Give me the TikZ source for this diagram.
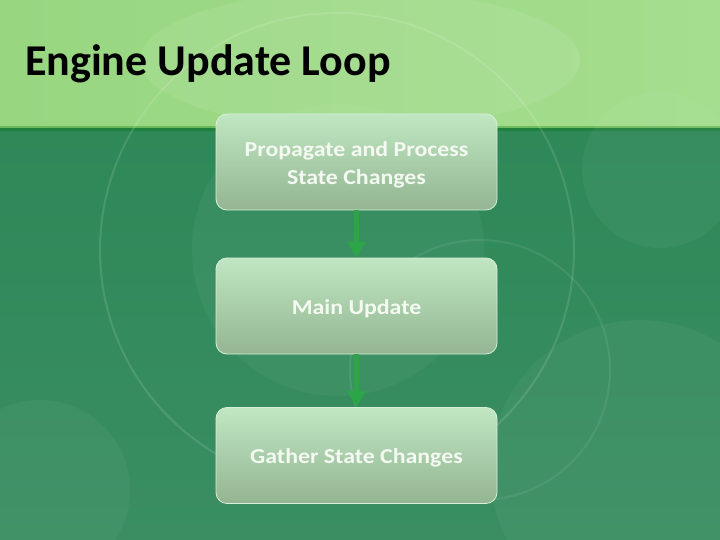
\documentclass[tikz,border=0pt]{standalone}
\usepackage{fontspec}
\setmainfont{Carlito}
\newfontfamily\boxfont[FakeStretch=1.12]{Carlito}
\usetikzlibrary{arrows.meta}
\definecolor{lightband}{HTML}{A4DE8E}
\definecolor{lightbandB}{HTML}{98D680}
\definecolor{darkbg}{HTML}{2E8858}
\definecolor{darkbgB}{HTML}{3A8E62}
\definecolor{boxtop}{HTML}{C0E6C2}
\definecolor{boxbot}{HTML}{93B592}
\definecolor{boxline}{HTML}{D8F0D8}
\definecolor{arrowgreen}{HTML}{2CA448}
\definecolor{textwhite}{HTML}{F4F9F2}
\tikzset{
  stepbox/.style={draw=boxline, line width=0.8pt, rounded corners=11pt,
    top color=boxtop, bottom color=boxbot, minimum width=281pt, minimum height=96pt,
    text=textwhite, font=\boxfont\bfseries\fontsize{21.3}{28}\selectfont, inner sep=0pt},
  flowarrow/.style={draw=arrowgreen, line width=5pt,
    -{Triangle[length=16pt,width=18pt]}},
  ring/.style={draw=white, opacity=0.12, line width=2pt},
  blob/.style={fill=white, opacity=0.045}
}
\newcommand{\boxtext}[1]{\raisebox{-2.5pt}[\height][\depth]{\begin{tabular}{@{}c@{}}#1\end{tabular}}}
\begin{document}
\begin{tikzpicture}[x=1pt,y=-1pt]
\useasboundingbox (0,0) rectangle (720,540);
% background
\shade[top color=darkbg, bottom color=darkbgB] (0,128) rectangle (720,540);
\shade[left color=lightbandB, right color=lightband] (0,0) rectangle (720,128);
\fill[white, opacity=0.08] (360,60) ellipse (220 and 70);
\fill[black!55!green, opacity=0.3] (0,126) rectangle (720,131);
% decorative circles
\fill[blob] (338,250) circle (146);
\fill[blob] (660,170) circle (78);
\fill[blob] (640,470) circle (150);
\fill[blob] (40,490) circle (90);
\draw[ring] (337,250) circle (237);
\draw[ring, opacity=0.08] (480,370) circle (130);
% boxes
\node[stepbox] (p) at (356.5,162) {\boxtext{Propagate and Process\\State Changes}};
\node[stepbox] (m) at (356.5,306) {\boxtext{Main Update}};
\node[stepbox] (g) at (356.5,455.5) {\boxtext{Gather State Changes}};
% arrows
\draw[flowarrow] (p.south) -- (m.north);
\draw[flowarrow] (m.south) -- (g.north);
% title
\node[anchor=base west, font=\bfseries\fontsize{44}{48}\selectfont, text=black, inner sep=0pt] (title) at (25,76) {Engine Update Loop};
\end{tikzpicture}
\end{document}
